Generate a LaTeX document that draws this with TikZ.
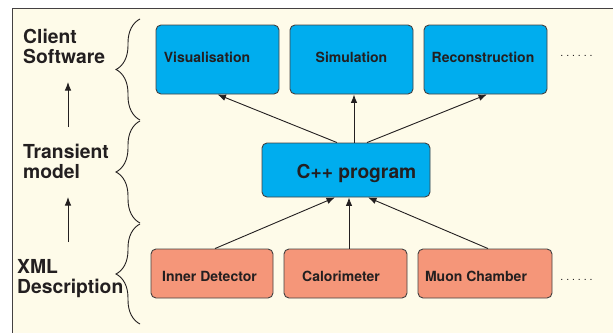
\documentclass[tikz,border=0pt]{standalone}
\usepackage{fontspec}
\setmainfont{TeX Gyre Heros}
\usetikzlibrary{arrows.meta,decorations.pathreplacing,calc}
\definecolor{panelbg}{HTML}{FEFBE9}
\definecolor{boxblue}{HTML}{00ADEE}
\definecolor{boxorange}{HTML}{F59679}
\definecolor{ink}{HTML}{231F20}
\begin{document}
\begin{tikzpicture}[x=1pt,y=-1pt,
  box/.style={draw=ink!85, line width=0.9pt, rounded corners=5pt, inner sep=0pt, text=ink,
    font=\fontsize{14}{16}\selectfont\bfseries},
  bluebox/.style={box, fill=boxblue, minimum width=123pt, minimum height=69pt,
    text height=10pt, text depth=4pt},
  orangebox/.style={box, fill=boxorange, minimum height=49pt,
    text height=16pt, text depth=0pt},
  sidelabel/.style={anchor=west, inner sep=0pt, align=left, text=ink,
    font=\fontsize{19.3}{20}\selectfont\bfseries},
  conn/.style={draw=ink, line width=0.9pt, -{Latex[length=8.5pt,width=6.5pt]}},
  bracestyle/.style={draw=ink, line width=0.9pt, decorate,
    decoration={brace, amplitude=24pt, aspect=0.5}},
  dotsstyle/.style={inner sep=0pt, text=ink, font=\fontsize{10.5}{12}\selectfont}
]
\useasboundingbox (0,0) rectangle (613,332);
\fill[white] (0,0) rectangle (613,332);
\fill[panelbg] (12,8) rectangle (620,340);
\draw[ink!85, line width=1pt] (12,340) -- (12,8) -- (620,8);

% client software boxes
\node[bluebox, minimum width=123pt] (vis) at (217.5,59.5) {Visualisation\hspace*{21pt}};
\node[bluebox] (sim) at (351.5,59.5) {Simulation};
\node[bluebox] (rec) at (485.5,59.5) {Reconstruction\hspace*{5pt}};
\node[dotsstyle] (dots1) at (576.5,56) {.\ .\ .\ .\ .\ .};

% transient model
\node[box, fill=boxblue, minimum width=168pt, minimum height=54pt,
  text height=20pt, text depth=3pt,
  font=\fontsize{19.2}{21}\selectfont\bfseries] (cpp) at (346,170) {\hspace*{21pt}C++ program};

% XML description boxes
\node[orangebox, minimum width=122pt] (id) at (212,273.5) {Inner Detector\hspace*{5pt}};
\node[orangebox, minimum width=123pt] (cal) at (345.5,273.5) {Calorimeter\hspace*{9pt}};
\node[orangebox, minimum width=134pt] (muon) at (485,273.5) {Muon Chamber\hspace*{18pt}};
\node[dotsstyle] (dots2) at (576.5,280) {.\ .\ .\ .\ .\ .};

% connectors top
\draw[conn] ([xshift=-9pt]cpp.north) -- (vis.south);
\draw[conn] ([xshift=8pt]cpp.north) -- ([xshift=8pt]cpp.north |- sim.south);
\draw[conn] ([xshift=21pt]cpp.north) -- ([xshift=1.5pt]rec.south);
% connectors bottom
\draw[conn] ([xshift=3pt]id.north) -- ([xshift=-11pt]cpp.south);
\draw[conn] ([xshift=3.5pt]cal.north) -- ([xshift=3.5pt]cal.north |- cpp.south);
\draw[conn] ([xshift=3pt]muon.north) -- ([xshift=22pt]cpp.south);

% side labels
\node[sidelabel] (client) at (23,46.5) {Client\\Software};
\node[sidelabel] (trans) at (23,161) {Transient\\model};
\node[sidelabel] (xml) at (17,279) {XML\\Description};

% side arrows
\coordinate (a1s) at (68,127);
\coordinate (a1e) at (68,82);
\coordinate (a2s) at (68,242);
\coordinate (a2e) at (68,197);
\draw[conn] (a1s) -- (a1e);
\draw[conn] (a2s) -- (a2e);

% braces
\coordinate (b1t) at (140,19);
\coordinate (b1b) at (140,120);
\coordinate (b2t) at (140,121);
\coordinate (b2b) at (140,223);
\coordinate (b3t) at (140,224);
\coordinate (b3b) at (140,324);
\draw[bracestyle] (b1b) -- (b1t);
\draw[bracestyle] (b2b) -- (b2t);
\draw[bracestyle] (b3b) -- (b3t);
\end{tikzpicture}
\end{document}
